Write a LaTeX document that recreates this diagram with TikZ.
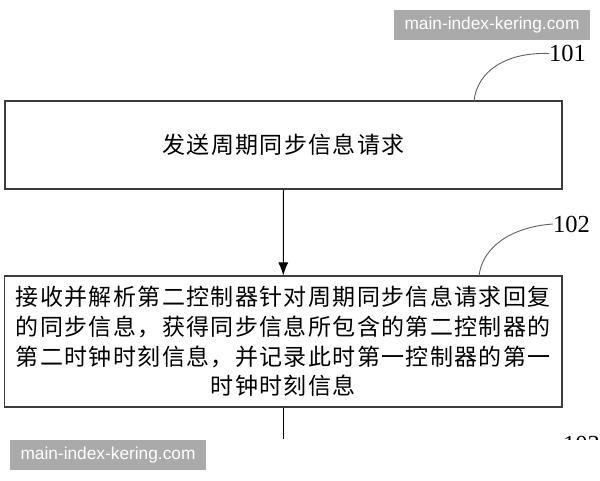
\documentclass[tikz,border=0pt]{standalone}
\usepackage{fontspec}
\setmainfont{Liberation Serif}
\newfontfamily\cjk[LetterSpace=6]{Noto Sans CJK SC}
\newfontfamily\wmfont{Liberation Sans}
\usetikzlibrary{arrows.meta}
\definecolor{boxline}{RGB}{60,60,60}
\definecolor{leadline}{RGB}{95,95,95}
\definecolor{wmgray}{RGB}{170,170,170}
\tikzset{
  stepbox/.style={draw=boxline, line width=1.1pt, fill=white, inner sep=0pt, align=center,
    font={\cjk\fontsize{23}{29.7}\selectfont}},
  leader/.style={draw=leadline, line width=0.9pt},
  reflabel/.style={inner sep=0pt, anchor=west, font={\fontsize{24.5}{26}\selectfont}},
  flow/.style={draw=black, line width=1pt, -{Latex[length=13pt,width=10pt]}},
  plain/.style={draw=black, line width=1pt},
  wmark/.style={fill=wmgray, text=white, inner sep=0pt, font={\wmfont\fontsize{17.3}{19}\selectfont}}
}
\begin{document}
\begin{tikzpicture}[x=1pt,y=-1pt]
\useasboundingbox (0,0) rectangle (600,480);
\fill[white] (0,0) rectangle (600,480);

% boxes
\node[stepbox, minimum width=557pt, minimum height=88pt] (b1) at (283.5,145) {发送周期同步信息请求};
\node[stepbox, minimum width=557.5pt, minimum height=131pt] (b2) at (283.25,341.5)
  {接收并解析第二控制器针对周期同步信息请求回复\\的同步信息，获得同步信息所包含的第二控制器的\\第二时钟时刻信息，并记录此时第一控制器的第一\\时钟时刻信息};

% connectors
\draw[flow] (b1.south) -- (b2.north);
\coordinate (cut) at (b2.south |- 0,439);
\draw[plain] (b2.south) -- (cut);

% reference labels
\node[reflabel] (l101) at (549,53.5) {101};
\node[reflabel] (l102) at (553,224) {102};
\coordinate (s101) at (474,101);
\coordinate (s102) at (479,276);
\draw[leader] (s101) .. controls (477,72) and (505,52) .. (l101.west);
\draw[leader] (s102) .. controls (482,248) and (510,227) .. (l102.west);
\begin{scope}
  \clip (540,420) rectangle (600,439);
  \node[reflabel] (l103) at (563,444.5) {103};
\end{scope}

% watermarks
\node[wmark, minimum width=196pt, minimum height=30pt] (wm1) at (492,25) {main-index-kering.com};
\node[wmark, minimum width=196pt, minimum height=30pt] (wm2) at (108,455) {main-index-kering.com};
\end{tikzpicture}
\end{document}
